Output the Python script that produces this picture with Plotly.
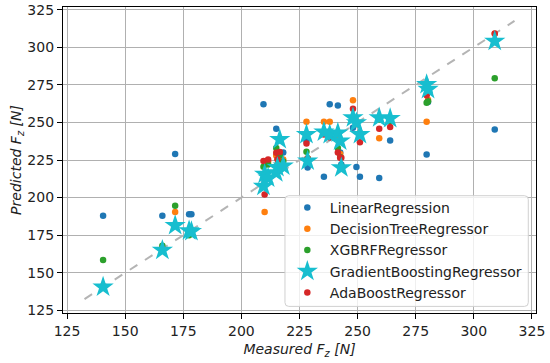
import plotly.graph_objects as go

measured = [140.5, 166, 171.5, 177.5, 178.5, 209.5, 210, 211.5, 215, 216.5, 215.5, 218,
            228, 228.5, 235.5, 238, 241.5, 242.5, 243, 248, 249.5, 251, 259.3, 264,
            279.7, 280.3, 309]
lr = [188, 188, 229, 189, 189, 262, 211, 213, 245.8, 230, 218, 230,
      237.6, 220, 213.9, 262, 261.3, 230, 222, 246.5, 220.3, 213.9, 213, 238,
      228.7, 263.5, 245.3]
dt = [141, 166, 190.5, 178, 178, 208, 190.5, 224, 228, 225.4, 222, 225.4,
      250.5, 226, 250.5, 250.5, 241, 229, 220, 264.8, 251, 243, 239.4, 252,
      250.5, 265, 309]
xgb = [158.5, 168, 194.5, 175, 176, 220.5, 214, 222, 233, 228, 220, 224,
       230.5, 226, 243, 241, 233, 227, 221, 253, 249, 242, 252, 251,
       263, 264, 279.3]
gb = [140.5, 165, 181.5, 178, 177.5, 207.5, 215.5, 213, 216.5, 238.7, 220, 221,
      242, 224.3, 243.6, 242, 243, 237.6, 219.9, 253.1, 249.8, 242, 253.1, 252.7,
      275.3, 272, 304]
ada = [141, 166, 182, 178, 178, 224.3, 202, 225.4, 229.9, 230.3, 225.5, 221,
       236, 226, 242, 240, 230, 226.5, 226.5, 259, 249, 236.8, 245.8, 247,
       268, 270, 309.2]
diag = [132.5, 317.5]

names = ["LinearRegression", "DecisionTreeRegressor", "XGBRFRegressor",
         "GradientBoostingRegressor", "AdaBoostRegressor"]
colors = ["#1f77b4", "#ff7f0e", "#2ca02c", "#17becf", "#d62728"]

fig = go.Figure()
fig.add_trace(go.Scatter(x=diag, y=diag, mode="lines", showlegend=False,
                         line=dict(color="#b4b4b4", width=2, dash="dash")))

series = [(lr, 0, "circle", 6.5), (dt, 1, "circle", 6.5), (xgb, 2, "circle", 6.5),
          (ada, 4, "circle", 6.5), (gb, 3, "star", 16)]
for vals, i, sym, sz in series:
    fig.add_trace(go.Scatter(
        x=measured, y=vals, mode="markers", name=names[i], legendrank=i + 1,
        legendgroup=names[i],
        marker=dict(color=colors[i], symbol=sym, size=sz, line=dict(width=0))))

axis_common = dict(
    range=[123.25, 326.75], tickvals=[125, 150, 175, 200, 225, 250, 275, 300, 325],
    showgrid=True, gridcolor="#b0b0b0", gridwidth=1,
    showline=True, linecolor="black", linewidth=1.3, mirror=True,
    ticks="outside", ticklen=5, tickcolor="black", tickwidth=1.2,
    zeroline=False, tickfont=dict(size=14, color="#222"), automargin=False,
    ticklabeloverflow="allow",
)
fig.update_xaxes(**axis_common,
                 title=dict(text="<i>Measured F<sub>z</sub> [N]</i>", font=dict(size=14, color="#222"), standoff=6))
fig.update_yaxes(**axis_common,
                 title=dict(text="<i>Predicted F<sub>z</sub> [N]</i>", font=dict(size=14, color="#222"), standoff=2))

# legend frame (rounded, semi-transparent), drawn as a paper-space shape
x0, x1, y0, y1, r = 0.4693, 0.9837, 0.0216, 0.3833, 0.008
ry = r * 472.4 / 306
path = (f"M {x0+r},{y0} L {x1-r},{y0} Q {x1},{y0} {x1},{y0+ry} L {x1},{y1-ry} "
        f"Q {x1},{y1} {x1-r},{y1} L {x0+r},{y1} Q {x0},{y1} {x0},{y1-ry} "
        f"L {x0},{y0+ry} Q {x0},{y0} {x0+r},{y0} Z")
fig.add_shape(type="path", path=path, xref="paper", yref="paper", layer="above",
              fillcolor="rgba(255,255,255,0.8)", line=dict(color="#d0d0d0", width=1))

fig.update_layout(
    width=550, height=363,
    margin=dict(l=63, r=14, t=7, b=50, autoexpand=False),
    paper_bgcolor="white", plot_bgcolor="white",
    font=dict(family="DejaVu Sans", color="#222"),
    legend=dict(x=0.469, y=0.3955, xanchor="left", yanchor="top",
                bgcolor="rgba(0,0,0,0)", borderwidth=0, itemwidth=35,
                font=dict(size=14, color="#222"), tracegroupgap=2,
                traceorder="normal"),
)
fig.write_html("out.html", post_script="document.body.style.margin='0';",
               config={"displayModeBar": False})
